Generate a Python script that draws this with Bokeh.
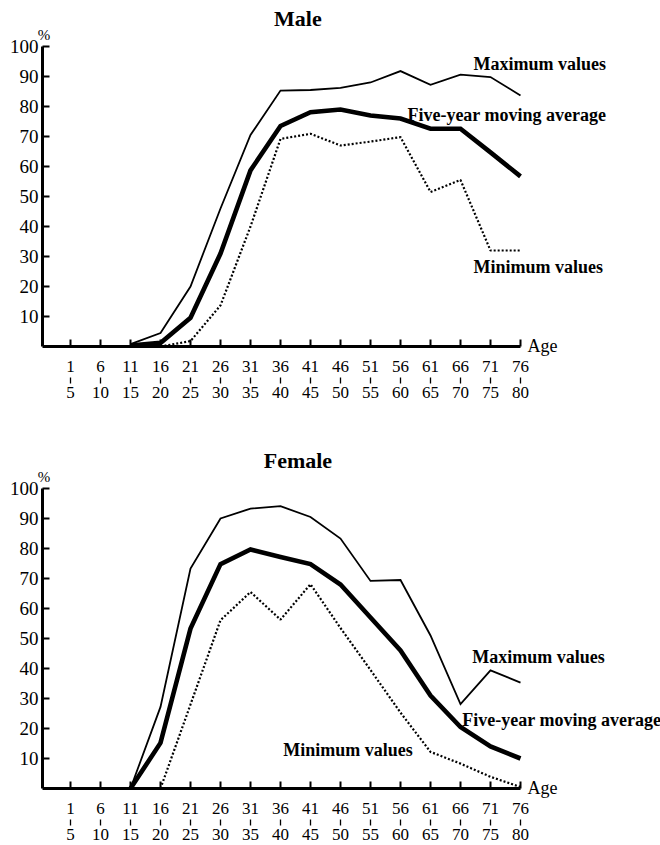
import numpy as np
from bokeh.plotting import figure
from bokeh.models import Range1d, LinearAxis, FixedTicker, Label
from bokeh.layouts import column
from bokeh.embed import file_html
from bokeh.resources import INLINE

nan = np.nan

# Age groups (tick labels: upper and lower bound)
age_from = ["1", "6", "11", "16", "21", "26", "31", "36", "41", "46", "51", "56", "61", "66", "71", "76"]
age_to = ["5", "10", "15", "20", "25", "30", "35", "40", "45", "50", "55", "60", "65", "70", "75", "80"]
age_idx = list(range(len(age_from)))

y_ticks = [10, 20, 30, 40, 50, 60, 70, 80, 90, 100]

# Male (%)
male_max = [nan, nan, 0.8, 4.5, 20.0, 46.0, 70.5, 85.3, 85.5, 86.2, 88.0, 91.8, 87.2, 90.6, 89.8, 83.7]
male_avg = [nan, nan, 0.3, 1.2, 9.6, 31.0, 58.7, 73.5, 78.1, 79.0, 77.0, 76.0, 72.6, 72.6, 64.7, 56.7]
male_min = [nan, nan, nan, 0.0, 1.8, 13.7, 40.0, 69.2, 70.9, 67.0, 68.3, 69.8, 51.5, 55.5, 32.0, 32.0]

# Female (%)
female_max = [nan, nan, 0.0, 27.2, 73.3, 90.0, 93.3, 94.1, 90.5, 83.3, 69.2, 69.5, 51.0, 28.1, 39.4, 35.3]
female_avg = [nan, nan, 0.0, 15.2, 53.3, 74.8, 79.7, 77.2, 74.8, 68.0, 57.0, 46.0, 31.0, 20.5, 14.0, 10.0]
female_min = [nan, nan, nan, 0.0, 28.0, 56.1, 65.5, 56.3, 68.1, 53.5, 39.5, 25.3, 12.2, 8.3, 3.9, 0.5]

FONT = "Liberation Serif"
X0, X1 = -1.4, 19.6667
XAX = -0.9333          # where the y axis stands
Y0, Y1 = -10.333, 115.333


def make_panel(title, vmax, vavg, vmin, lab_max, lab_avg, lab_min, border_bottom):
    p = figure(frame_width=632, frame_height=377,
               x_range=Range1d(X0, X1), y_range=Range1d(Y0, Y1),
               x_axis_type=None, y_axis_type=None,
               output_backend="svg", toolbar_location=None,
               min_border_left=28, min_border_right=0, min_border_top=0,
               min_border_bottom=border_bottom)
    p.outline_line_color = None
    p.background_fill_color = "white"
    p.border_fill_color = "white"

    # y axis: line and ticks at XAX, tick labels on a separate axis to the left
    yaxis = LinearAxis(ticker=FixedTicker(ticks=y_ticks), bounds=(0, 100),
                       fixed_location=XAX,
                       axis_line_width=3, major_tick_line_width=2,
                       major_tick_in=7, major_tick_out=0,
                       minor_tick_line_color=None,
                       major_label_text_color=None)
    ylabels = LinearAxis(ticker=FixedTicker(ticks=y_ticks),
                         axis_line_color=None, major_tick_line_color=None,
                         minor_tick_line_color=None,
                         major_tick_in=0, major_tick_out=0,
                         major_label_standoff=-10,
                         major_label_text_font=FONT,
                         major_label_text_font_size="19px",
                         major_label_text_color="black")
    p.add_layout(yaxis, "left")
    p.add_layout(ylabels, "left")

    xaxis1 = LinearAxis(ticker=FixedTicker(ticks=age_idx), bounds=(XAX, 15),
                        fixed_location=0,
                        major_label_overrides={i: s for i, s in zip(age_idx, age_from)},
                        axis_line_width=3, major_tick_line_width=2,
                        major_tick_in=7, major_tick_out=0,
                        minor_tick_line_color=None,
                        major_label_standoff=14,
                        major_label_text_font=FONT,
                        major_label_text_font_size="17px",
                        major_label_text_color="black")
    xaxis2 = LinearAxis(ticker=FixedTicker(ticks=age_idx),
                        major_label_overrides={i: s for i, s in zip(age_idx, age_to)},
                        axis_line_color=None, major_tick_line_width=1.3,
                        major_tick_in=0, major_tick_out=6,
                        minor_tick_line_color=None,
                        major_label_standoff=3,
                        major_label_text_font=FONT,
                        major_label_text_font_size="17px",
                        major_label_text_color="black")
    p.add_layout(xaxis1, "below")
    p.add_layout(xaxis2, "below")

    p.line(age_idx, vmax, line_width=1.8, color="black", line_join="miter")
    p.line(age_idx, vavg, line_width=4.6, color="black", line_join="miter")
    p.line(age_idx, vmin, line_width=2.2, color="black", line_dash="2 2")

    p.add_layout(Label(x=7.58, y=109.3, text=title, text_align="center",
                       text_baseline="middle", text_font=FONT,
                       text_font_style="bold", text_font_size="22px",
                       text_color="black"))
    p.add_layout(Label(x=-0.883, y=103.7, text="%", text_align="center",
                       text_baseline="middle", text_font=FONT,
                       text_font_size="15px", text_color="black"))
    p.add_layout(Label(x=15.23, y=0.3, text="Age", text_align="left",
                       text_baseline="middle", text_font=FONT,
                       text_font_size="18px", text_color="black"))
    for (lx, ly, txt) in [(lab_max[0], lab_max[1], "Maximum values"),
                          (lab_avg[0], lab_avg[1], "Five-year moving average"),
                          (lab_min[0], lab_min[1], "Minimum values")]:
        p.add_layout(Label(x=lx, y=ly, text=txt, text_align="left",
                           text_baseline="middle", text_font=FONT,
                           text_font_style="bold", text_font_size="18px",
                           text_color="black"))
    return p


p1 = make_panel("Male", male_max, male_avg, male_min,
                (13.43, 94.3), (11.23, 77.0), (13.43, 26.4), 65)
p2 = make_panel("Female", female_max, female_avg, female_min,
                (13.39, 43.9), (13.06, 22.8), (7.09, 13.0), 26)

layout = column(p1, p2, spacing=0)
open("out.html", "w").write(file_html(layout, INLINE))
